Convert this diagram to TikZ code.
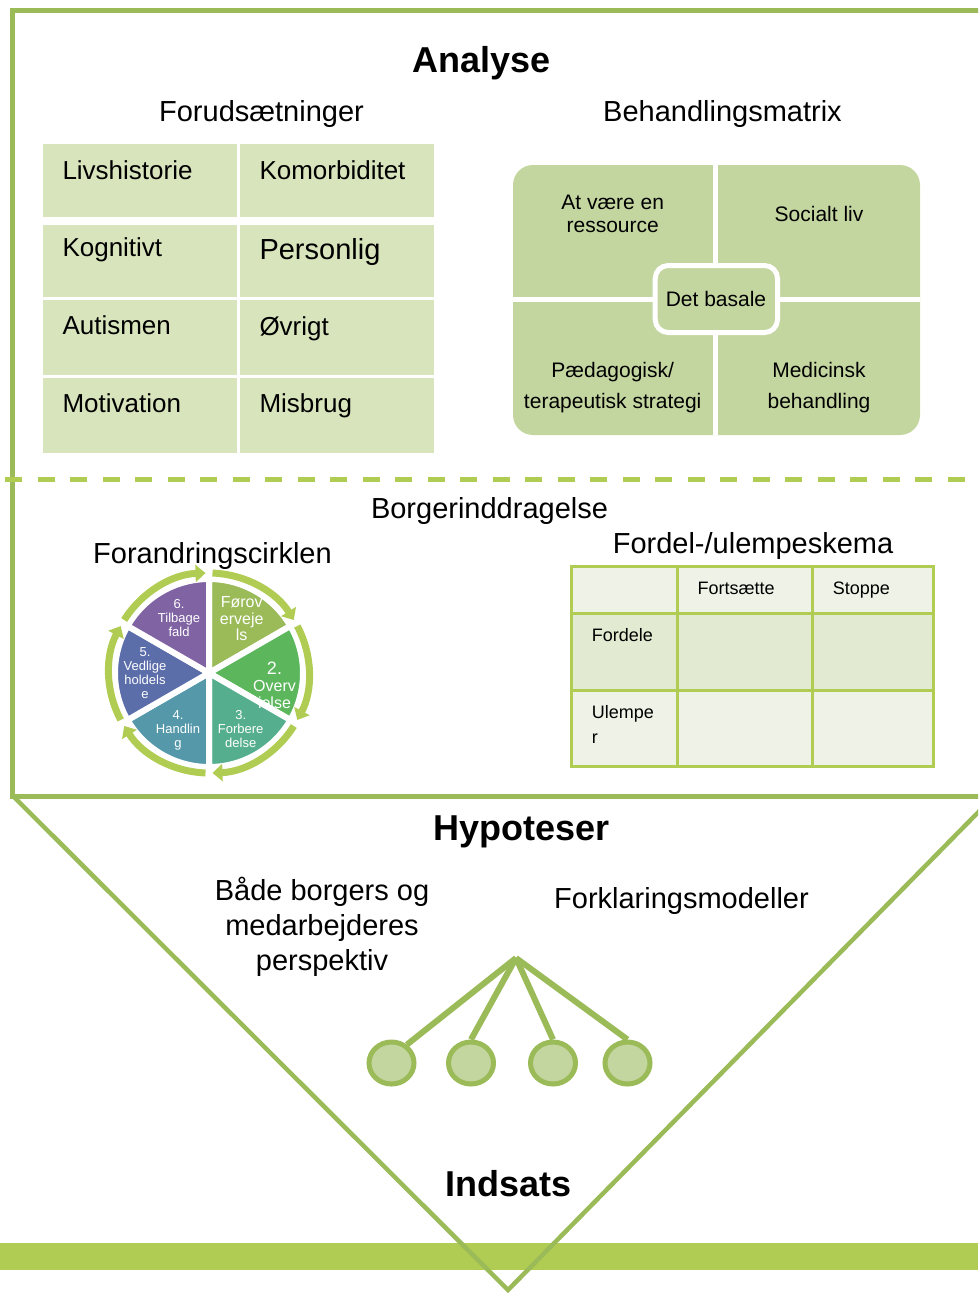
\documentclass[tikz,border=0pt]{standalone}
\usepackage{fontspec}
\setmainfont{Liberation Sans}
\usetikzlibrary{arrows.meta,shapes.geometric}
\pgfdeclarelayer{bg}
\pgfsetlayers{bg,main}
\definecolor{frameG}{HTML}{9BBB59}
\definecolor{bandG}{HTML}{B0CC52}
\definecolor{cellG}{HTML}{D8E4BC}
\definecolor{matG}{HTML}{C4D6A0}
\definecolor{tabA}{HTML}{EFF3E7}
\definecolor{tabB}{HTML}{E2EBD1}
\definecolor{wA}{HTML}{9BBB59}
\definecolor{wB}{HTML}{5BB65C}
\definecolor{wC}{HTML}{55AE8E}
\definecolor{wD}{HTML}{5498AA}
\definecolor{wE}{HTML}{5C6EAA}
\definecolor{wF}{HTML}{8063A2}
\tikzset{
  hd/.style={font=\fontsize{29}{35}\selectfont, inner sep=0, align=center},
  bighd/.style={font=\bfseries\fontsize{36}{40}\selectfont, inner sep=0},
  celltxt/.style={font=\fontsize{26}{30}\selectfont, anchor=base west, inner sep=0},
  mattxt/.style={font=\fontsize{21}{23}\selectfont, inner sep=0, align=center},
  tabtxt/.style={font=\fontsize{18}{25}\selectfont, anchor=base west, inner sep=0},
  wtxt/.style={font=\fontsize{13}{14}\selectfont, text=white, inner sep=0, align=center},
  ringarc/.style={draw=bandG, line width=7pt, -{Triangle[width=17pt,length=10pt]}},
  branch/.style={draw=frameG, line width=6pt},
  leaf/.style={ellipse, draw=frameG, line width=5pt, fill=matG, minimum width=45pt, minimum height=42pt, inner sep=0},
  gridline/.style={draw=bandG, line width=3pt}
}
\begin{document}
\begin{tikzpicture}[x=1pt,y=-1pt]
\useasboundingbox (0,0) rectangle (978,1295);
\clip (0,0) rectangle (978,1295);

% bottom band and funnel
\fill[bandG] (0,1243) rectangle (978,1270);
\draw[frameG, line width=4.5pt, line join=miter] (14,797) -- (508,1290) -- (1004,786);

% frame
\draw[frameG, line width=5pt, line join=miter] (980,11) -- (12,11) -- (12,796.5) -- (980,796.5);
\draw[bandG, line width=5pt, dash pattern=on 17pt off 15.5pt] (5,479) -- (978,479);

% titles
\node[bighd] (analyse) at (481.5,63) {Analyse};
\node[hd] (forud) at (261.5,114) {Forudsætninger};
\node[hd] (behand) at (722.5,114) {Behandlingsmatrix};

% left table
\fill[cellG] (43.3,144.3) rectangle (237.3,216.7);
\fill[cellG] (240,144.3) rectangle (434,216.7);
\fill[cellG] (43.3,225) rectangle (237.3,297.3);
\fill[cellG] (240,225) rectangle (434,297.3);
\fill[cellG] (43.3,300) rectangle (237.3,375);
\fill[cellG] (240,300) rectangle (434,375);
\fill[cellG] (43.3,377.7) rectangle (237.3,452.7);
\fill[cellG] (240,377.7) rectangle (434,452.7);
\node[celltxt] (livs) at (62.3,179) {Livshistorie};
\node[celltxt] (komo) at (259.3,179) {Komorbiditet};
\node[celltxt] (kogn) at (62.3,256) {Kognitivt};
\node[celltxt, font=\fontsize{29}{32}\selectfont] (pers) at (259.3,259.5) {Personlig};
\node[celltxt] (auti) at (62.3,334.3) {Autismen};
\node[celltxt] (ovri) at (259.3,335) {Øvrigt};
\node[celltxt] (moti) at (62.3,412) {Motivation};
\node[celltxt] (misb) at (259.3,412) {Misbrug};

% matrix
\fill[matG, rounded corners=20pt] (513,165) rectangle (920,435);
\draw[white, line width=5pt] (715.5,165) -- (715.5,435);
\draw[white, line width=5pt] (513,299.5) -- (920,299.5);
\draw[white, line width=5pt, fill=matG, rounded corners=13pt] (655.2,265.5) rectangle (777.5,332.5);
\node[mattxt] (basal) at (716,298.5) {Det basale};
\node[mattxt] (res) at (612.7,214) {At være en\\ressource};
\node[mattxt] (soc) at (819,213.5) {Socialt liv};
\node[mattxt, font=\fontsize{21}{31}\selectfont] (paed) at (612.7,387.5) {Pædagogisk/\\terapeutisk strategi};
\node[mattxt, font=\fontsize{21}{31}\selectfont] (med) at (819,387.5) {Medicinsk\\behandling};

% middle section
\node[hd] (borger) at (489.5,511) {Borgerinddragelse};
\node[hd] (forand) at (212.5,556) {Forandringscirklen};
\node[hd] (fordel) at (753,546) {Fordel-/ulempeskema};

% fordel table
\fill[tabA] (571.7,566) rectangle (933,613.3);
\fill[tabB] (571.7,613.3) rectangle (933,690);
\fill[tabA] (571.7,690) rectangle (933,766.7);
\draw[gridline] (571.7,566) rectangle (933,766.7);
\draw[gridline] (677.3,566) -- (677.3,766.7);
\draw[gridline] (812.7,566) -- (812.7,766.7);
\draw[gridline] (571.7,613.3) -- (933,613.3);
\draw[gridline] (571.7,690) -- (933,690);
\node[tabtxt] (forts) at (697.3,594) {Fortsætte};
\node[tabtxt] (stop) at (832.7,594) {Stoppe};
\node[tabtxt] (fdl) at (591.7,641.5) {Fordele};
\node[tabtxt, align=left] (ulm) at (591.7,743) {Ulempe\\r};

% change circle
\begin{scope}[shift={(209,673)}, yscale=-1]
  \foreach \c/\a in {wA/30, wB/-30, wC/-90, wD/-150, wE/150, wF/90}
    \filldraw[fill=\c, draw=white, line width=6pt] (0,0) -- (\a:94) arc[start angle=\a, end angle=\a+60, radius=94] -- cycle;
\end{scope}
\node[wtxt] (s6) at (179,618) {6.\\Tilbage\\fald};
\node[wtxt, font=\fontsize{16}{16.5}\selectfont] (s1) at (241.7,619) {Førov\\erveje\\ls};
\node[wtxt, font=\fontsize{16}{17}\selectfont] (s2) at (274.5,685) {{\fontsize{18}{19}\selectfont 2.}\\Overv\\ielse};
\node[wtxt] (s3) at (240.7,729.5) {3.\\Forbere\\delse};
\node[wtxt] (s4) at (178,730) {4.\\Handlin\\g};
\node[wtxt] (s5) at (145,673.5) {5.\\Vedlige\\holdels\\e};
\begin{scope}[shift={(209,673)}, yscale=-1]
  \foreach \s in {88,28,-32,-92,-152,-212}
    \draw[ringarc] (\s:100) arc[start angle=\s, end angle=\s-56, radius=100];
\end{scope}

% hypotheses
\node[bighd] (hyp) at (521.5,832) {Hypoteser};
\node[hd] (baade) at (322,927) {Både borgers og\\medarbejderes\\perspektiv};
\node[hd] (forkl) at (681.5,901) {Forklaringsmodeller};

\coordinate (top) at (516,958);
\node[leaf] (c1) at (391.5,1063) {};
\node[leaf] (c2) at (471,1063) {};
\node[leaf] (c3) at (553,1063) {};
\node[leaf] (c4) at (627.5,1063) {};
\begin{pgfonlayer}{bg}
\draw[branch] (top) -- (c1.50);
\draw[branch] (top) -- (c2.north);
\draw[branch] (top) -- (c3.north);
\draw[branch] (top) -- (c4.north);
\end{pgfonlayer}

\node[bighd] (inds) at (508.5,1184) {Indsats};
\end{tikzpicture}
\end{document}
